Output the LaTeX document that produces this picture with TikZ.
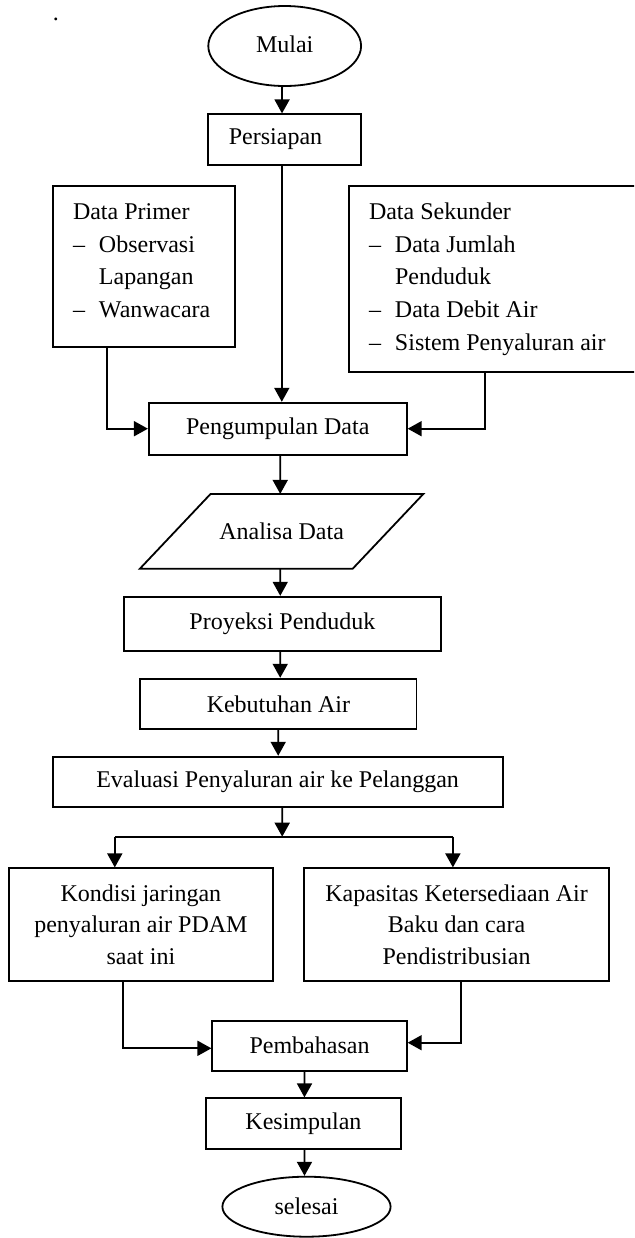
\documentclass[tikz,border=0pt]{standalone}
\usepackage{fontspec}
\setmainfont{Liberation Serif}
\usetikzlibrary{arrows.meta,shapes.geometric}
\tikzset{
  box/.style={draw, line width=0.9pt, inner sep=0pt, font=\fontsize{12}{15.85}\selectfont, align=center},
  oval/.style={draw, ellipse, line width=0.9pt, inner sep=0pt, font=\fontsize{12}{14}\selectfont},
  arr/.style={-{Triangle[length=7pt,width=7.5pt]}, line width=0.9pt},
  ln/.style={line width=0.9pt}
}
\newcommand{\itemdash}{\makebox[13pt][l]{\textendash}}
\begin{document}
\begin{tikzpicture}[x=0.5pt,y=-0.5pt]
\useasboundingbox (0,0) rectangle (634,1238);
\clip (0,0) rectangle (634,1238);
% stray dot
\node[inner sep=0pt, font=\fontsize{12}{14}\selectfont] (dot) at (55.8,19) {.};
% nodes
\node[oval, minimum width=76.4pt, minimum height=40pt] (mulai) at (284.7,46) {\raisebox{2pt}{Mulai}};
\node[box, minimum width=76.25pt, minimum height=25.2pt] (persiapan) at (284.5,139.5) {Persiapan\kern9pt};
\node[draw, line width=0.9pt, inner sep=0pt, font=\fontsize{12}{16.4}\selectfont] (primer) at (143.75,266.35)
 {\parbox[c][80.35pt][t]{91.15pt}{\raggedright
  \hspace*{10.2pt}\rule{0pt}{16.6pt}Data Primer\\
  \hspace*{10.2pt}\itemdash Observasi\\
  \hspace*{23.2pt}Lapangan\\
  \hspace*{10.2pt}\itemdash Wanwacara}};
\node[draw, line width=0.9pt, inner sep=0pt, font=\fontsize{12}{16.4}\selectfont] (sekunder) at (494.3,279.15)
 {\parbox[c][93.15pt][t]{145.7pt}{\raggedright
  \hspace*{10.2pt}\rule{0pt}{16.6pt}Data Sekunder\\
  \hspace*{10.2pt}\itemdash Data Jumlah\\
  \hspace*{23.2pt}Penduduk\\
  \hspace*{10.2pt}\itemdash Data Debit Air\\
  \hspace*{10.2pt}\itemdash Sistem Penyaluran air}};
\node[box, minimum width=129pt, minimum height=26pt] (kumpul) at (277.8,428.7) {Pengumpulan Data};
\node[inner sep=0pt, minimum width=141.35pt, minimum height=37pt, font=\fontsize{12}{14}\selectfont] (analisa) at (281.65,531.3) {Analisa Data};
\draw[ln] ([xshift=35.35pt]analisa.north west) -- (analisa.north east) -- ([xshift=-35.35pt]analisa.south east) -- (analisa.south west) -- cycle;
\node[box, minimum width=158.35pt, minimum height=27pt] (proyeksi) at (282.45,623.7) {Proyeksi Penduduk};
\node[box, minimum width=138.1pt, minimum height=25.15pt] (kebutuhan) at (278.4,703.85) {Kebutuhan Air};
\node[box, minimum width=225pt, minimum height=25pt] (evaluasi) at (277.6,781.7) {Evaluasi Penyaluran air ke Pelanggan};
\node[box, minimum width=132pt, minimum height=56.2pt] (kondisi) at (140.9,924.5) {Kondisi jaringan\\penyaluran air PDAM\\saat ini};
\node[box, minimum width=152.45pt, minimum height=56.2pt] (kapasitas) at (456.55,924.5) {Kapasitas Ketersediaan Air\\Baku dan cara\\Pendistribusian};
\node[box, minimum width=97.25pt, minimum height=25pt] (bahas) at (309.55,1045.7) {Pembahasan};
\node[box, minimum width=97.25pt, minimum height=25.35pt] (simpul) at (303.45,1123.65) {Kesimpulan};
\node[oval, minimum width=84.1pt, minimum height=30pt] (selesai) at (306.5,1206.7) {selesai};
% split coordinates
\coordinate (split) at (282.2,836.7);
\coordinate (splitL) at (114.8,836.7);
\coordinate (splitR) at (452.9,836.7);
% connectors
\draw[arr] ([xshift=-1.3pt]mulai.south) -- ([xshift=-1.25pt]persiapan.north);
\draw[arr] ([xshift=-1.35pt]persiapan.south) -- ([xshift=2pt]kumpul.north);
\draw[arr] ([xshift=-18.3pt]primer.south) |- (kumpul.west);
\draw[arr] ([xshift=-4.55pt]sekunder.south) |- (kumpul.east);
\draw[arr] ([xshift=1.2pt]kumpul.south) -- ([xshift=-0.7pt]analisa.north);
\draw[arr] ([xshift=-0.7pt]analisa.south) -- ([xshift=-1.1pt]proyeksi.north);
\draw[arr] ([xshift=-1.1pt]proyeksi.south) -- ([xshift=0.9pt]kebutuhan.north);
\draw[arr] ([xshift=-0.1pt]kebutuhan.south) -- ([xshift=0.3pt]evaluasi.north);
\draw[arr] ([xshift=2.3pt]evaluasi.south) -- (split);
\draw[ln] (splitL) -- (splitR);
\draw[arr] (splitL) -- (kondisi.north -| splitL);
\draw[arr] (splitR) -- (kapasitas.north -| splitR);
\draw[arr] ([xshift=-8.8pt]kondisi.south) |- ([yshift=-1.3pt]bahas.west);
\draw[arr] ([xshift=2.2pt]kapasitas.south) |- ([yshift=1.5pt]bahas.east);
\draw[arr] ([xshift=-2.5pt]bahas.south) -- ([xshift=0.5pt]simpul.north);
\draw[arr] ([xshift=0.5pt]simpul.south) -- ([xshift=-1pt]selesai.north);
\end{tikzpicture}
\end{document}
